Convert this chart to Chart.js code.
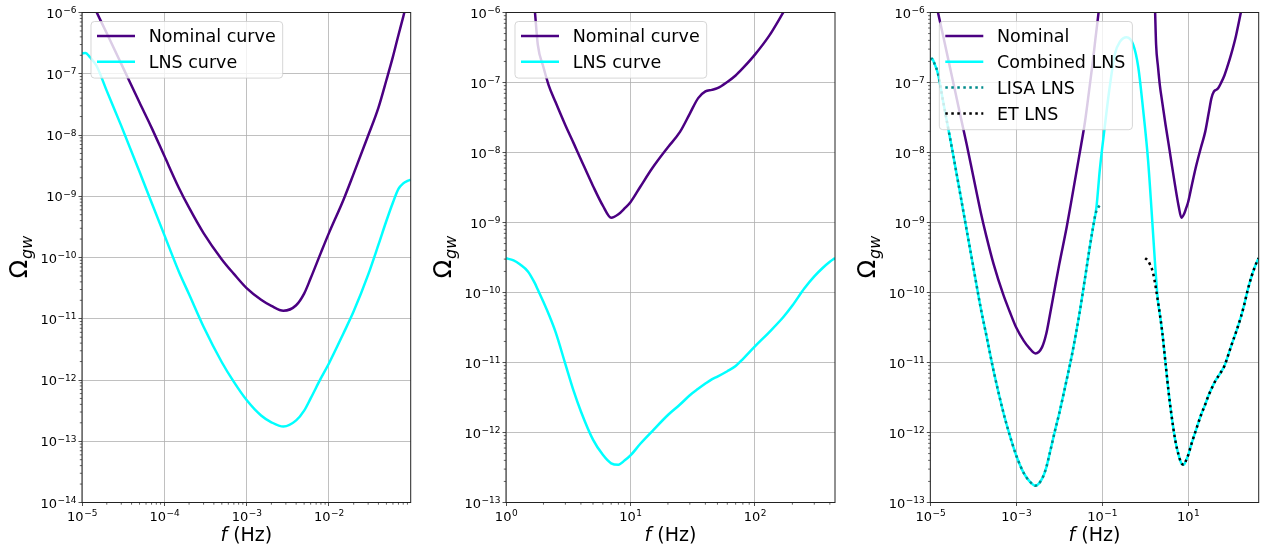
<!DOCTYPE html>
<html>
<head>
<meta charset="utf-8">
<script src="https://cdn.jsdelivr.net/npm/chart.js@4.4.1/dist/chart.umd.min.js"></script>
<style>
  body { margin: 0; background: #fff; width: 1263px; height: 546px; overflow: hidden; position: relative; }
  canvas { position: absolute; top: 0; }
</style>
</head>
<body>
<canvas id="c1" width="421" height="546" style="left:0"></canvas>
<canvas id="c2" width="421" height="546" style="left:421px"></canvas>
<canvas id="c3" width="421" height="546" style="left:842px"></canvas>
<script>
// LISA band (Hz) and sensitivity curves
const lisaFreq = [1e-5, 1.1e-5, 1.25e-5, 1.5e-5, 2e-5, 3e-5, 5e-5, 7e-5, 1e-4, 1.5e-4, 2e-4, 3e-4, 5e-4, 7e-4,
  1e-3, 1.5e-3, 2e-3, 2.8e-3, 4e-3, 5e-3, 6e-3, 8e-3, 1e-2, 1.5e-2, 2e-2, 3e-2, 4e-2, 5e-2, 6e-2, 7e-2, 8e-2, 9e-2, 0.0986];
const lisaNominal = [3.24e-6, 2.45e-6, 1.70e-6, 1.02e-6, 4.57e-7, 1.45e-7, 3.39e-8, 1.32e-8, 4.57e-9, 1.38e-9, 6.5e-10, 2.5e-10, 9.3e-11, 5.4e-11,
  3.16e-11, 2.04e-11, 1.62e-11, 1.35e-11, 1.66e-11, 2.57e-11, 4.57e-11, 1.2e-10, 2.5e-10, 8.7e-10, 2.34e-9, 9.8e-9, 2.8e-8, 7.9e-8, 1.9e-7, 4.3e-7, 8.5e-7, 1.6e-6, 2.5e-6];
const lisaLNS = [2.14e-7, 2.19e-7, 1.86e-7, 1.35e-7, 5.25e-8, 1.41e-8, 2.51e-9, 7.9e-10, 2.34e-10, 5.9e-11, 2.51e-11, 7.4e-12, 1.95e-12, 9.3e-13,
  4.7e-13, 2.63e-13, 2.04e-13, 1.74e-13, 2.19e-13, 3.16e-13, 5.0e-13, 1.07e-12, 1.86e-12, 5.75e-12, 1.32e-11, 5.25e-11, 1.62e-10, 3.98e-10, 7.9e-10, 1.32e-9, 1.62e-9, 1.78e-9, 1.86e-9];

// ET band (Hz)
const etFreq = [1, 1.15, 1.3, 1.5, 1.7, 1.8, 2, 2.2, 2.5, 3, 3.5, 4, 5, 6, 7, 8, 9, 10, 12, 15, 20, 25, 30, 35, 40, 45, 50,
  60, 70, 80, 100, 130, 170, 200, 250, 300, 350, 400, 440];
const etNominal = [1e-3, 2e-4, 5e-5, 1e-5, 1.12e-6, 3.49e-7, 1.65e-7, 9.2e-8, 5.25e-8, 2.45e-8, 1.35e-8, 7.96e-9, 3.33e-9, 1.74e-9, 1.17e-9, 1.31e-9, 1.6e-9, 1.95e-9, 3.24e-9, 6.0e-9, 1.19e-8, 1.97e-8, 3.6e-8, 5.98e-8, 7.45e-8, 7.85e-8, 8.3e-8,
  1.02e-7, 1.26e-7, 1.6e-7, 2.5e-7, 4.63e-7, 1.02e-6, 1.66e-6, 3.24e-6, 5.6e-6, 8.9e-6, 1.32e-5, 1.78e-5];
const etLNS = [3.08e-10, 2.88e-10, 2.51e-10, 2.0e-10, 1.37e-10, 1.1e-10, 7.3e-11, 4.93e-11, 2.73e-11, 9.5e-12, 3.9e-12, 2.0e-12, 7.9e-13, 4.8e-13, 3.63e-13, 3.47e-13, 4.0e-13, 4.7e-13, 6.9e-13, 1.05e-12, 1.78e-12, 2.51e-12, 3.4e-12, 4.2e-12, 5.0e-12, 5.75e-12, 6.3e-12,
  7.5e-12, 8.9e-12, 1.12e-11, 1.7e-11, 2.7e-11, 4.5e-11, 6.5e-11, 1.15e-10, 1.7e-10, 2.24e-10, 2.75e-10, 3.1e-10];

// combined curve between the two bands
const bridgeFreq = [0.074, 0.088, 0.115, 0.15, 0.2, 0.26, 0.37, 0.53, 0.69, 0.9, 1.17, 1.41, 1.68];
const bridgeLNS = [1.7e-9, 5.6e-9, 2.34e-8, 8.7e-8, 2.61e-7, 3.83e-7, 4.42e-7, 3.44e-7, 1.68e-7, 4.05e-8, 7.8e-9, 1.51e-9, 2.91e-10];

// tick positions
const p1XTicks = [1e-5, 1e-4, 1e-3, 1e-2];
const p1YTicks = [1e-14, 1e-13, 1e-12, 1e-11, 1e-10, 1e-9, 1e-8, 1e-7, 1e-6];
const p2XTicks = [1, 10, 100];
const p3XTicks = [1e-5, 1e-3, 1e-1, 10];
const wideYTicks = [1e-13, 1e-12, 1e-11, 1e-10, 1e-9, 1e-8, 1e-7, 1e-6];

const INDIGO = '#4b0082', CYAN = '#00ffff', TEAL = '#008b8b';
const FONT = '"DejaVu Sans"';

function pts(xs, ys) { return xs.map((x, i) => ({ x, y: ys[i] })); }

const combinedLNS = [
  ...pts(lisaFreq, lisaLNS).filter(p => p.x <= 0.06),
  ...pts(bridgeFreq, bridgeLNS),
  ...pts(etFreq, etLNS).filter(p => p.x >= 2)
];

// matplotlib draws later lines on top; chart.js draws lower "order" on top
function line(label, data, color, order, dash) {
  return {
    label, data, order, borderColor: color, borderWidth: 2.5, borderDash: dash || [],
    borderCapStyle: 'butt', pointRadius: 0, fill: false, clip: 0,
    cubicInterpolationMode: 'monotone'
  };
}

function drawLegend(chart) {
  const { ctx, chartArea: a } = chart;
  const items = chart.data.datasets;
  ctx.save();
  ctx.font = '17.5px ' + FONT;
  const textW = Math.max(...items.map(d => ctx.measureText(d.label).width));
  const bx = a.left + 9, by = a.top + 9;
  const bw = 57.7 + textW + 7, bh = items.length * 25.8 + 5;
  ctx.beginPath();
  ctx.roundRect(bx, by, bw, bh, 3.5);
  ctx.fillStyle = 'rgba(255,255,255,0.8)';
  ctx.fill();
  ctx.strokeStyle = 'rgba(204,204,204,0.8)';
  ctx.lineWidth = 1;
  ctx.stroke();
  items.forEach((d, i) => {
    const y = by + 14.5 + i * 25.8;
    ctx.beginPath();
    ctx.setLineDash(d.borderDash);
    ctx.strokeStyle = d.borderColor;
    ctx.lineWidth = 2.5;
    ctx.lineCap = 'butt';
    ctx.moveTo(a.left + 15, y);
    ctx.lineTo(a.left + 53, y);
    ctx.stroke();
    ctx.setLineDash([]);
    ctx.fillStyle = '#000';
    ctx.textBaseline = 'alphabetic';
    ctx.fillText(d.label, a.left + 66.7, y + 6.4);
  });
  ctx.restore();
}

function minorTicks(ctx, scale, horizontal, a) {
  const lo = Math.floor(Math.log10(scale.min)), hi = Math.ceil(Math.log10(scale.max));
  ctx.beginPath();
  for (let e = lo; e <= hi; e++) {
    for (let m = 2; m <= 9; m++) {
      const v = m * Math.pow(10, e);
      if (v <= scale.min || v >= scale.max) continue;
      const p = scale.getPixelForValue(v);
      if (horizontal) { ctx.moveTo(p, a.bottom); ctx.lineTo(p, a.bottom + 2.2); }
      else { ctx.moveTo(a.left, p); ctx.lineTo(a.left - 2.2, p); }
    }
  }
  ctx.stroke();
}

// "10" with a raised exponent, like matplotlib's mathtext labels
function tickLabels(ctx, scale, horizontal, a) {
  ctx.fillStyle = '#000';
  ctx.textBaseline = 'alphabetic';
  scale.ticks.forEach(t => {
    const e = Math.round(Math.log10(t.value));
    const exp = String(e).replace('-', '\u2212');
    ctx.font = '13px ' + FONT;
    const wb = ctx.measureText('10').width;
    ctx.font = '9px ' + FONT;
    const we = ctx.measureText(exp).width;
    const p = scale.getPixelForValue(t.value);
    let x, base;
    if (horizontal) { x = p - (wb + we) / 2; base = a.bottom + 18.5; }
    else { x = a.left - 6 - wb - we; base = p + 5.1; }
    ctx.font = '13px ' + FONT;
    ctx.fillText('10', x, base);
    ctx.font = '9px ' + FONT;
    ctx.fillText(exp, x + wb + 0.5, base - 4.6);
  });
}

const decor = {
  id: 'decor',
  afterDatasetsDraw(chart) { drawLegend(chart); },
  afterDraw(chart, args, opts) {
    const { ctx, chartArea: a } = chart;
    ctx.save();
    // frame
    ctx.strokeStyle = '#222';
    ctx.lineWidth = 1;
    ctx.strokeRect(a.left, a.top, a.right - a.left, a.bottom - a.top);
    // minor ticks
    ctx.lineWidth = 0.7;
    minorTicks(ctx, chart.scales.y, false, a);
    if (opts.xMinor) minorTicks(ctx, chart.scales.x, true, a);
    tickLabels(ctx, chart.scales.x, true, a);
    tickLabels(ctx, chart.scales.y, false, a);
    // y title: Omega_gw
    ctx.fillStyle = '#000';
    ctx.save();
    ctx.translate(a.left - 55.3, (a.top + a.bottom) / 2);
    ctx.rotate(-Math.PI / 2);
    ctx.font = '24px ' + FONT;
    const wO = ctx.measureText('Ω').width;
    ctx.font = 'italic 16px ' + FONT;
    const wS = ctx.measureText('gw').width;
    const x0 = -(wO + wS) / 2;
    ctx.font = '24px ' + FONT;
    ctx.fillText('Ω', x0, 0);
    ctx.font = 'italic 16px ' + FONT;
    ctx.fillText('gw', x0 + wO + 1, 5);
    ctx.restore();
    // x title: f (Hz)
    ctx.font = 'italic 19px ' + FONT;
    const wf = ctx.measureText('f').width;
    ctx.font = '19px ' + FONT;
    const wr = ctx.measureText(' (Hz)').width;
    const sx = (a.left + a.right) / 2 - (wf + wr) / 2;
    ctx.font = 'italic 19px ' + FONT;
    ctx.fillText('f', sx, 541);
    ctx.font = '19px ' + FONT;
    ctx.fillText(' (Hz)', sx + wf, 541);
    ctx.restore();
  }
};

function axis(min, max, tickList, fit) {
  return {
    type: 'logarithmic', min, max,
    afterBuildTicks: s => { s.ticks = tickList.map(value => ({ value })); },
    afterFit: fit,
    ticks: { display: false, autoSkip: false },
    grid: { color: '#b0b0b0', lineWidth: 0.8, drawTicks: true, tickLength: 3.5, tickColor: '#222', tickWidth: 0.8 },
    border: { display: false }
  };
}

function makePanel(id, cfg) {
  return new Chart(document.getElementById(id), {
    type: 'line',
    data: { datasets: cfg.datasets },
    options: {
      responsive: false, animation: false, events: [],
      layout: { padding: { left: 0, right: cfg.padRight, top: 12.5, bottom: 0 } },
      plugins: { legend: { display: false }, tooltip: { enabled: false }, decor: { xMinor: cfg.xMinor } },
      scales: {
        x: axis(cfg.xMin, cfg.xMax, cfg.xTicks, s => { s.height = 43.5; }),
        y: axis(cfg.yMin, 1e-6, cfg.yTicks, s => { s.width = cfg.yWidth; })
      }
    },
    plugins: [decor]
  });
}

makePanel('c1', {
  datasets: [
    line('Nominal curve', pts(lisaFreq, lisaNominal), INDIGO, 2),
    line('LNS curve', pts(lisaFreq, lisaLNS), CYAN, 1)
  ],
  xMin: 1e-5, xMax: 0.0986, xTicks: p1XTicks, yMin: 1e-14, yTicks: p1YTicks,
  yWidth: 82, padRight: 10.3, xMinor: true
});

makePanel('c2', {
  datasets: [
    line('Nominal curve', pts(etFreq, etNominal), INDIGO, 2),
    line('LNS curve', pts(etFreq, etLNS), CYAN, 1)
  ],
  xMin: 1, xMax: 440, xTicks: p2XTicks, yMin: 1e-13, yTicks: wideYTicks,
  yWidth: 85, padRight: 7, xMinor: true
});

makePanel('c3', {
  datasets: [
    line('Nominal', pts(lisaFreq, lisaNominal).concat(pts(etFreq, etNominal)), INDIGO, 4),
    line('Combined LNS', combinedLNS, CYAN, 3),
    line('LISA LNS', pts(lisaFreq, lisaLNS), TEAL, 2, [2.5, 3.5]),
    line('ET LNS', pts(etFreq, etLNS), '#000', 1, [2.5, 3.5])
  ],
  xMin: 1e-5, xMax: 440, xTicks: p3XTicks, yMin: 1e-13, yTicks: wideYTicks,
  yWidth: 88.3, padRight: 4.3, xMinor: false
});
</script>
</body>
</html>
